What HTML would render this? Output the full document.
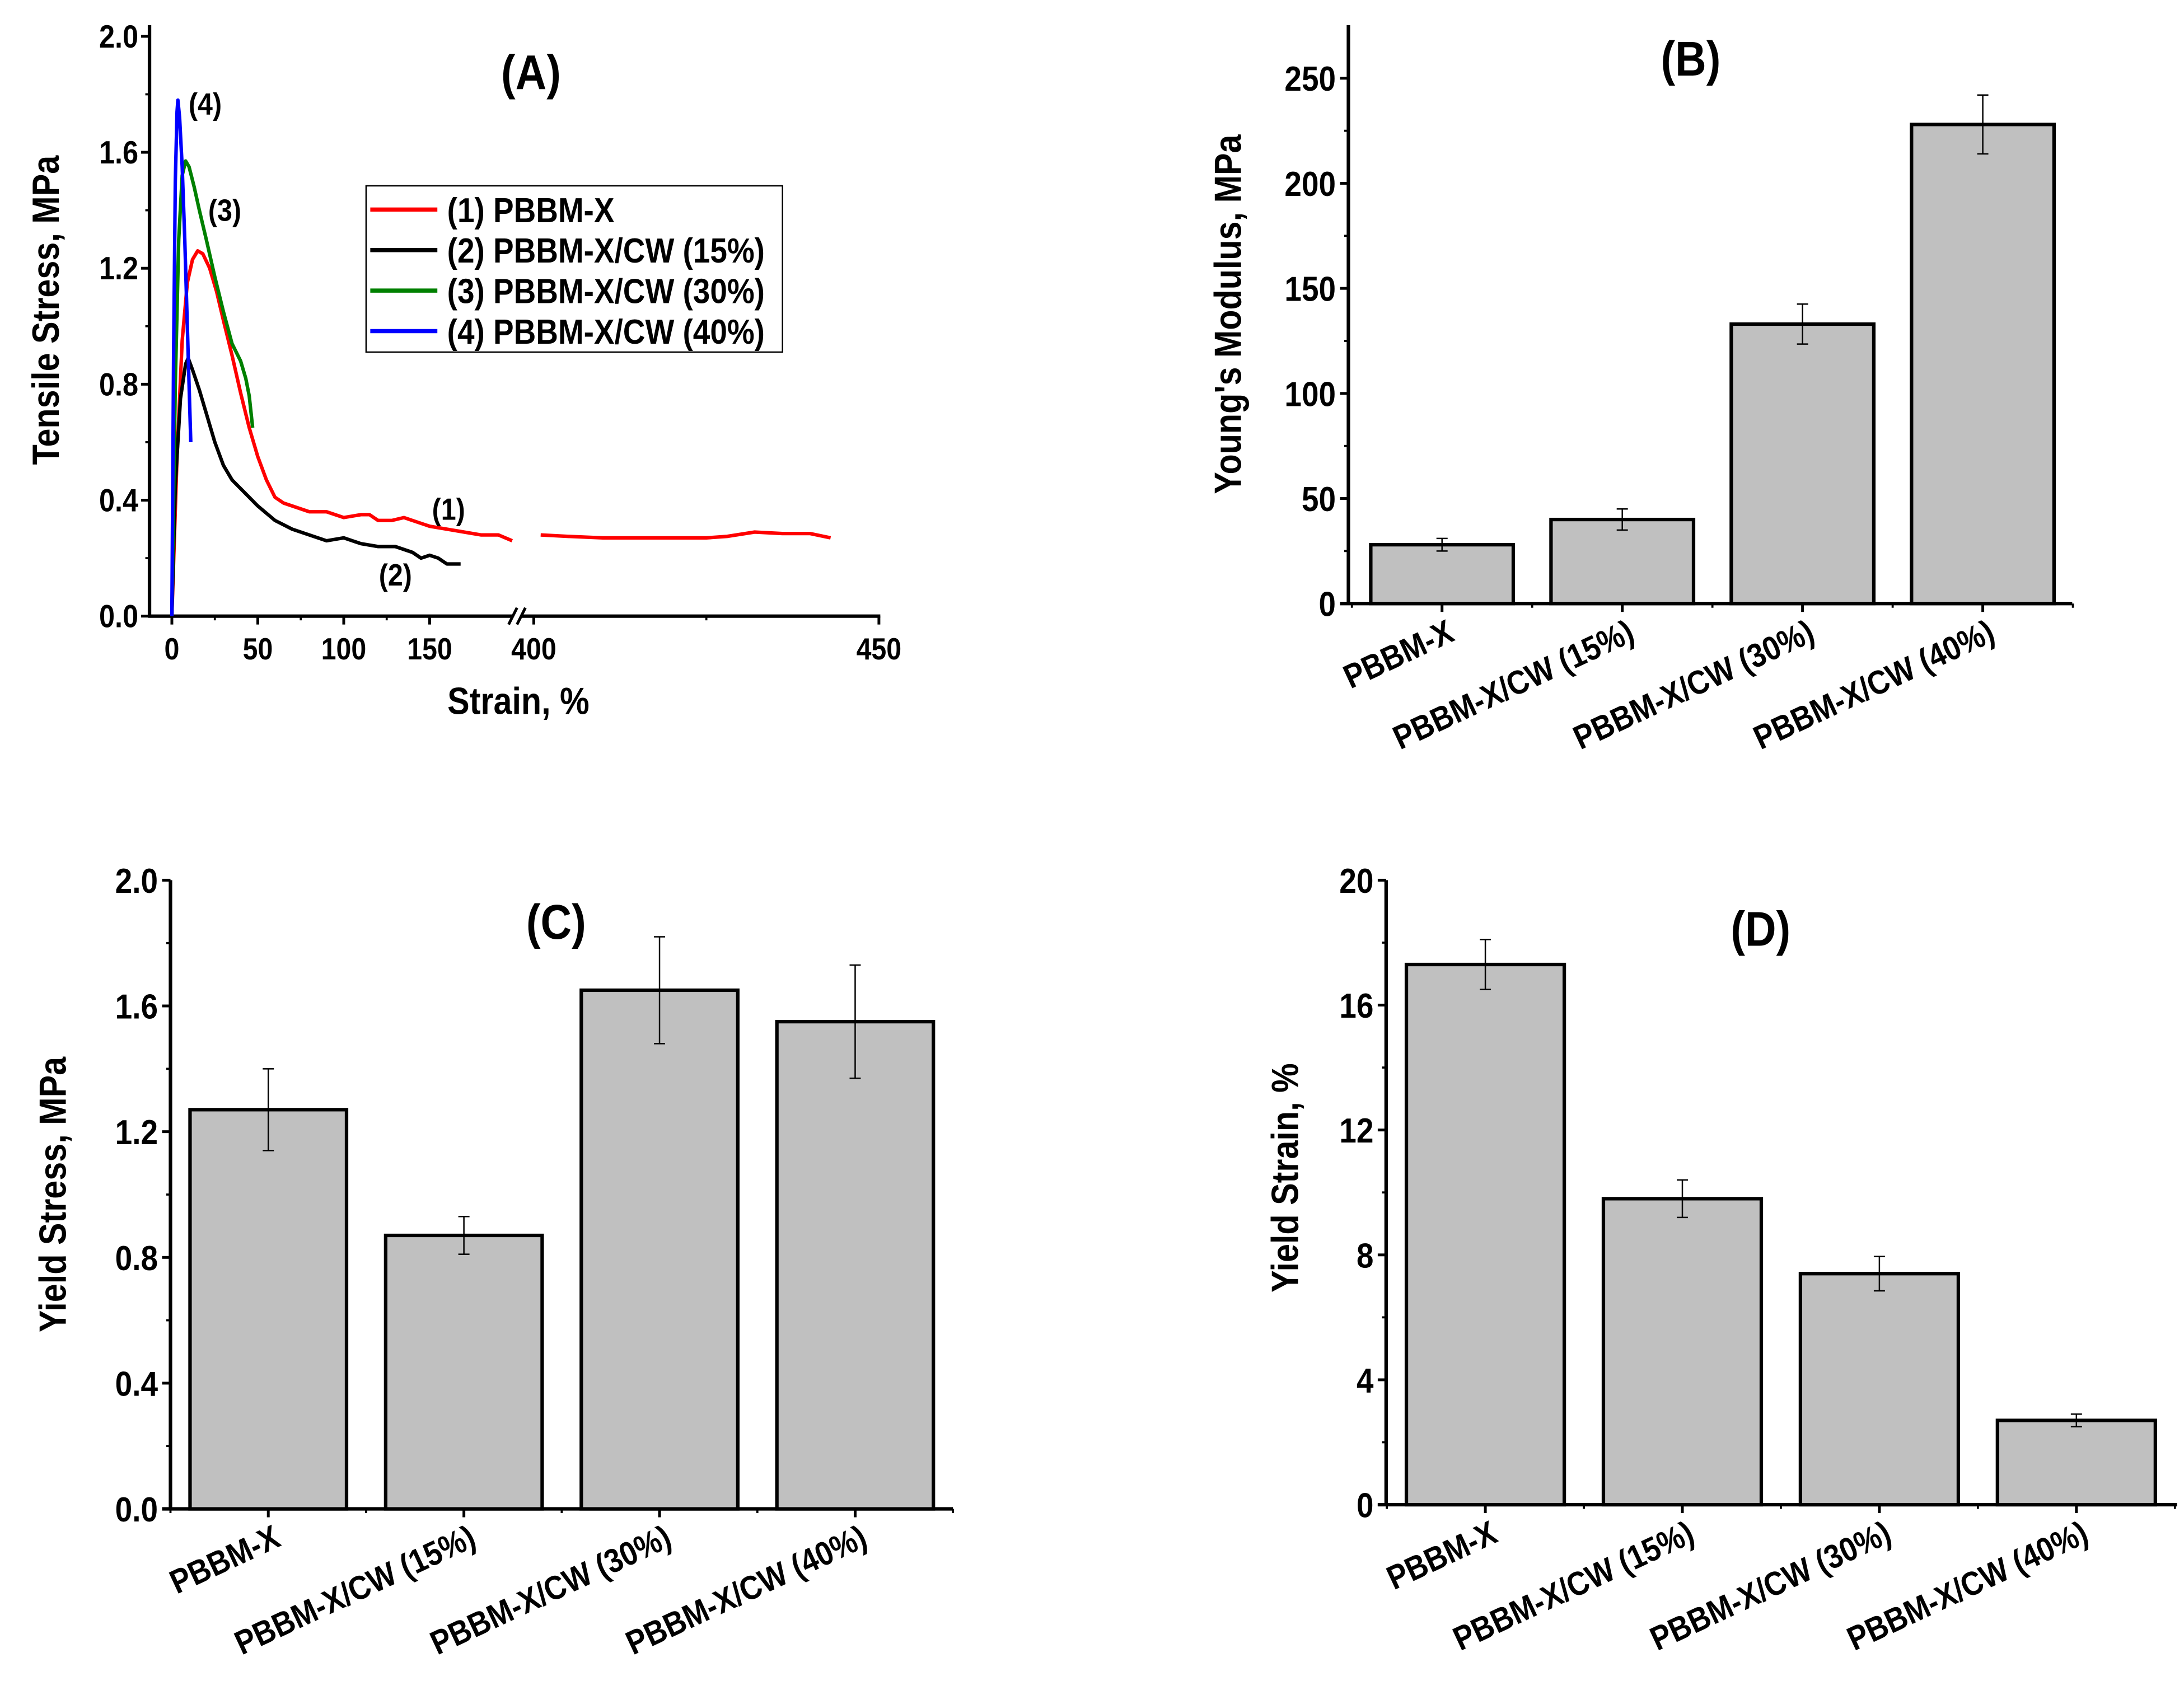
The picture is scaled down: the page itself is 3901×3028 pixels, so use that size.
<!DOCTYPE html>
<html><head><meta charset="utf-8"><style>
html,body{margin:0;padding:0;background:#fff}
svg{display:block}
text{font-family:"Liberation Sans",sans-serif;font-weight:bold;fill:#000}
</style></head><body>
<svg id="fig" width="3901" height="3028" viewBox="0 0 1563 1213.2" preserveAspectRatio="none" xmlns="http://www.w3.org/2000/svg"></svg>
<script>
// ---- Panel A data ----
const redX1=[0,3,6,9,12,15,18,22,26,30,35,40,45,50,55,60,65,70,80,90,100,110,115,120,128,135,140,150,160,170,180,190,198];
const redY1=[0,0.55,0.95,1.15,1.23,1.26,1.25,1.2,1.12,1.02,0.9,0.77,0.65,0.55,0.47,0.41,0.39,0.38,0.36,0.36,0.34,0.35,0.35,0.33,0.33,0.34,0.33,0.31,0.30,0.29,0.28,0.28,0.26];
const redX2=[401,405,410,415,420,425,428,432,436,440,443];
const redY2=[0.28,0.275,0.27,0.27,0.27,0.27,0.275,0.29,0.285,0.285,0.27];
const blackX=[0,2,5,8,9.5,12,16,20,25,30,35,40,45,50,60,70,80,90,100,110,120,130,140,145,150,155,160,168];
const blackY=[0,0.45,0.75,0.87,0.89,0.85,0.78,0.7,0.6,0.52,0.47,0.44,0.41,0.38,0.33,0.3,0.28,0.26,0.27,0.25,0.24,0.24,0.22,0.2,0.21,0.2,0.18,0.18];
const greenX=[0,2,4,6,8,10,13,16,20,25,30,35,40,43,45,47];
const greenY=[0,0.8,1.3,1.52,1.57,1.55,1.48,1.4,1.3,1.17,1.05,0.94,0.88,0.82,0.76,0.65];
const blueX=[0,1,2,3,3.5,4.5,6,7.5,9,10,11];
const blueY=[0,0.9,1.5,1.74,1.78,1.72,1.55,1.3,1.0,0.8,0.6];
const ticksA=[0,50,100,150,400,450];
const yTicksA=[0,0.4,0.8,1.2,1.6,2.0];
// ---- Bar panels ----
const cats=["PBBM-X","PBBM-X/CW (15%)","PBBM-X/CW (30%)","PBBM-X/CW (40%)"];
const modulus=[28,40,133,228];
const modulusErr=[3,5,9.5,14];
const yieldStress=[1.27,0.87,1.65,1.55];
const yieldStressErr=[0.13,0.06,0.17,0.18];
const yieldStrain=[17.3,9.8,7.4,2.7];
const yieldStrainErr=[0.8,0.6,0.55,0.2];
const ticksB=[0,50,100,150,200,250];
const ticksC=[0,0.4,0.8,1.2,1.6,2.0];
const ticksD=[0,4,8,12,16,20];

const NS="http://www.w3.org/2000/svg";
const svg=document.getElementById('fig');
function el(tag,attrs,parent,txt){const e=document.createElementNS(NS,tag);for(const k in attrs)e.setAttribute(k,attrs[k]);if(txt!==undefined)e.textContent=txt;(parent||svg).appendChild(e);return e;}

// Panel A
const gA=el('g',{});


const ayA=v=>441-v*207.5;
const axA=s=>s<=250?123+s*1.23:382+(s-400)*4.94;
el('line',{x1:107,y1:18,x2:107,y2:442,stroke:'#000','stroke-width':2.5},gA);
el('line',{x1:106,y1:441,x2:367,y2:441,stroke:'#000','stroke-width':2.5},gA);
el('line',{x1:373,y1:441,x2:630,y2:441,stroke:'#000','stroke-width':2.5},gA);
el('line',{x1:364,y1:447,x2:370,y2:435,stroke:'#000','stroke-width':2},gA);
el('line',{x1:370,y1:447,x2:376,y2:435,stroke:'#000','stroke-width':2},gA);
yTicksA.forEach(v=>{const y=ayA(v);el('line',{x1:101,y1:y,x2:107,y2:y,stroke:'#000','stroke-width':2},gA);
 const t=el('text',{x:99,y:y+8,'text-anchor':'end','font-size':23},gA,v.toFixed(1));});
for(let v=0.2;v<2;v+=0.4){const y=ayA(v);el('line',{x1:104,y1:y,x2:107,y2:y,stroke:'#000','stroke-width':1.5},gA);}
ticksA.forEach(s=>{const x=axA(s);el('line',{x1:x,y1:441,x2:x,y2:447,stroke:'#000','stroke-width':2},gA);
 const t=el('text',{x:x,y:472,'text-anchor':'middle','font-size':22},gA,String(s));});
[25,75,125,425].forEach(s=>{const x=axA(s);el('line',{x1:x,y1:441,x2:x,y2:444,stroke:'#000','stroke-width':1.5},gA);});
function poly(xs,ys,col,name){const p=el('polyline',{points:xs.map((x,i)=>axA(x)+','+ayA(ys[i])).join(' '),fill:'none',stroke:col,'stroke-width':2.5,'stroke-linejoin':'round'},gA);}
poly(redX1,redY1,'#f00','series-1-pbbm-x');
poly(redX2,redY2,'#f00','series-1-pbbm-x-tail');
poly(blackX,blackY,'#000','series-2-cw15');
poly(greenX,greenY,'#008000','series-3-cw30');
poly(blueX,blueY,'#00f','series-4-cw40');
el('text',{x:380,y:64,'text-anchor':'middle','font-size':35},gA,'(A)');
el('text',{x:135,y:82,'font-size':22},gA,'(4)');
el('text',{x:149,y:158,'font-size':22},gA,'(3)');
el('text',{x:321,y:372,'text-anchor':'middle','font-size':22},gA,'(1)');
el('text',{x:283,y:419,'text-anchor':'middle','font-size':22},gA,'(2)');
el('text',{x:371,y:511,'text-anchor':'middle','font-size':27},gA,'Strain, %');
el('text',{x:42,y:222,'text-anchor':'middle','font-size':27,transform:'rotate(-90 42 222)'},gA,'Tensile Stress, MPa');
const leg=el('g',{},gA);
el('rect',{x:262,y:133,width:298,height:119,fill:'#fff',stroke:'#000','stroke-width':1},leg);
[['(1) PBBM-X','#f00'],['(2) PBBM-X/CW (15%)','#000'],['(3) PBBM-X/CW (30%)','#008000'],['(4) PBBM-X/CW (40%)','#00f']].forEach((d,i)=>{
 const y=150+i*29;const g=el('g',{},leg);
 el('line',{x1:265,y1:y,x2:313,y2:y,stroke:d[1],'stroke-width':3},g);
 el('text',{x:320,y:y+9,'font-size':25},g,d[0]);});

function barPanel(o){
 const g=el('g',{});
 const sy=v=>o.y0-(v-0)/(o.max)*(o.y0-o.yTop);
 el('line',{x1:o.ax,y1:o.y0-(o.y0-o.yTop)-((o.extra)||0),x2:o.ax,y2:o.y0+1,stroke:'#000','stroke-width':2.5},g);
 el('line',{x1:o.ax-6,y1:o.y0,x2:o.xEnd,y2:o.y0,stroke:'#000','stroke-width':2.5},g);
 o.ticks.forEach(v=>{const y=sy(v);el('line',{x1:o.ax-6,y1:y,x2:o.ax,y2:y,stroke:'#000','stroke-width':2},g);
  const t=el('text',{x:o.ax-9,y:y+9,'text-anchor':'end','font-size':25},g,o.fmt(v));});
 for(let i=0;i<o.ticks.length-1;i++){const y=sy((o.ticks[i]+o.ticks[i+1])/2);el('line',{x1:o.ax-3,y1:y,x2:o.ax,y2:y,stroke:'#000','stroke-width':1.5},g);}
 const step=o.step,bw=o.bw;
 o.vals.forEach((v,i)=>{const c=o.c0+i*step;
  const r=el('rect',{x:c-bw/2,y:sy(v),width:bw,height:o.y0-sy(v),fill:'#c0c0c0',stroke:'#000','stroke-width':2.5},g);
  
  const e=o.err[i];const eg=el('g',{stroke:'#000','stroke-width':1},g);
  el('line',{x1:c,y1:sy(v+e),x2:c,y2:sy(v-e)},eg);el('line',{x1:c-4,y1:sy(v+e),x2:c+4,y2:sy(v+e)},eg);el('line',{x1:c-4,y1:sy(v-e),x2:c+4,y2:sy(v-e)},eg);
  el('line',{x1:c,y1:o.y0,x2:c,y2:o.y0+6,stroke:'#000','stroke-width':2},g);
  el('line',{x1:c+step/2,y1:o.y0,x2:c+step/2,y2:o.y0+3,stroke:'#000','stroke-width':1.5},g);
  if(i==0)el('line',{x1:c-step/2,y1:o.y0,x2:c-step/2,y2:o.y0+3,stroke:'#000','stroke-width':1.5},g);
  const tx=c+10,ty=o.y0+26;const t=el('text',{x:tx,y:ty,'text-anchor':'end','font-size':24,transform:`rotate(-25 ${tx} ${ty})`},g,cats[i]);
  });
 el('text',{x:o.tx,y:o.ty,'text-anchor':'middle','font-size':35},g,o.title);
 el('text',{x:o.lx,y:o.ly,'text-anchor':'middle','font-size':27,transform:`rotate(-90 ${o.lx} ${o.ly})`},g,o.ylab);
}
barPanel({name:'panel-b-youngs-modulus',ax:965,y0:432,yTop:56,max:250,extra:38,xEnd:1483,ticks:ticksB,fmt:v=>String(v),vals:modulus,err:modulusErr,c0:1032,step:129,bw:102,title:'(B)',tx:1210,ty:54,ylab:"Young's Modulus, MPa",lx:888,ly:225});
barPanel({name:'panel-c-yield-stress',ax:122,y0:1080,yTop:630,max:2.0,xEnd:682,ticks:ticksC,fmt:v=>v.toFixed(1),vals:yieldStress,err:yieldStressErr,c0:192,step:140,bw:112,title:'(C)',tx:398,ty:672,ylab:'Yield Stress, MPa',lx:47,ly:855});
barPanel({name:'panel-d-yield-strain',ax:992,y0:1077,yTop:630,max:20,xEnd:1558,ticks:ticksD,fmt:v=>String(v),vals:yieldStrain,err:yieldStrainErr,c0:1063,step:141,bw:113,title:'(D)',tx:1260,ty:677,ylab:'Yield Strain, %',lx:929,ly:843});
// condense text to mimic narrow font
document.querySelectorAll('text').forEach(t=>{const w=t.getComputedTextLength();if(w>0){t.setAttribute('textLength',(w*0.88).toFixed(1));t.setAttribute('lengthAdjust','spacingAndGlyphs');}});
</script>
</body></html>
